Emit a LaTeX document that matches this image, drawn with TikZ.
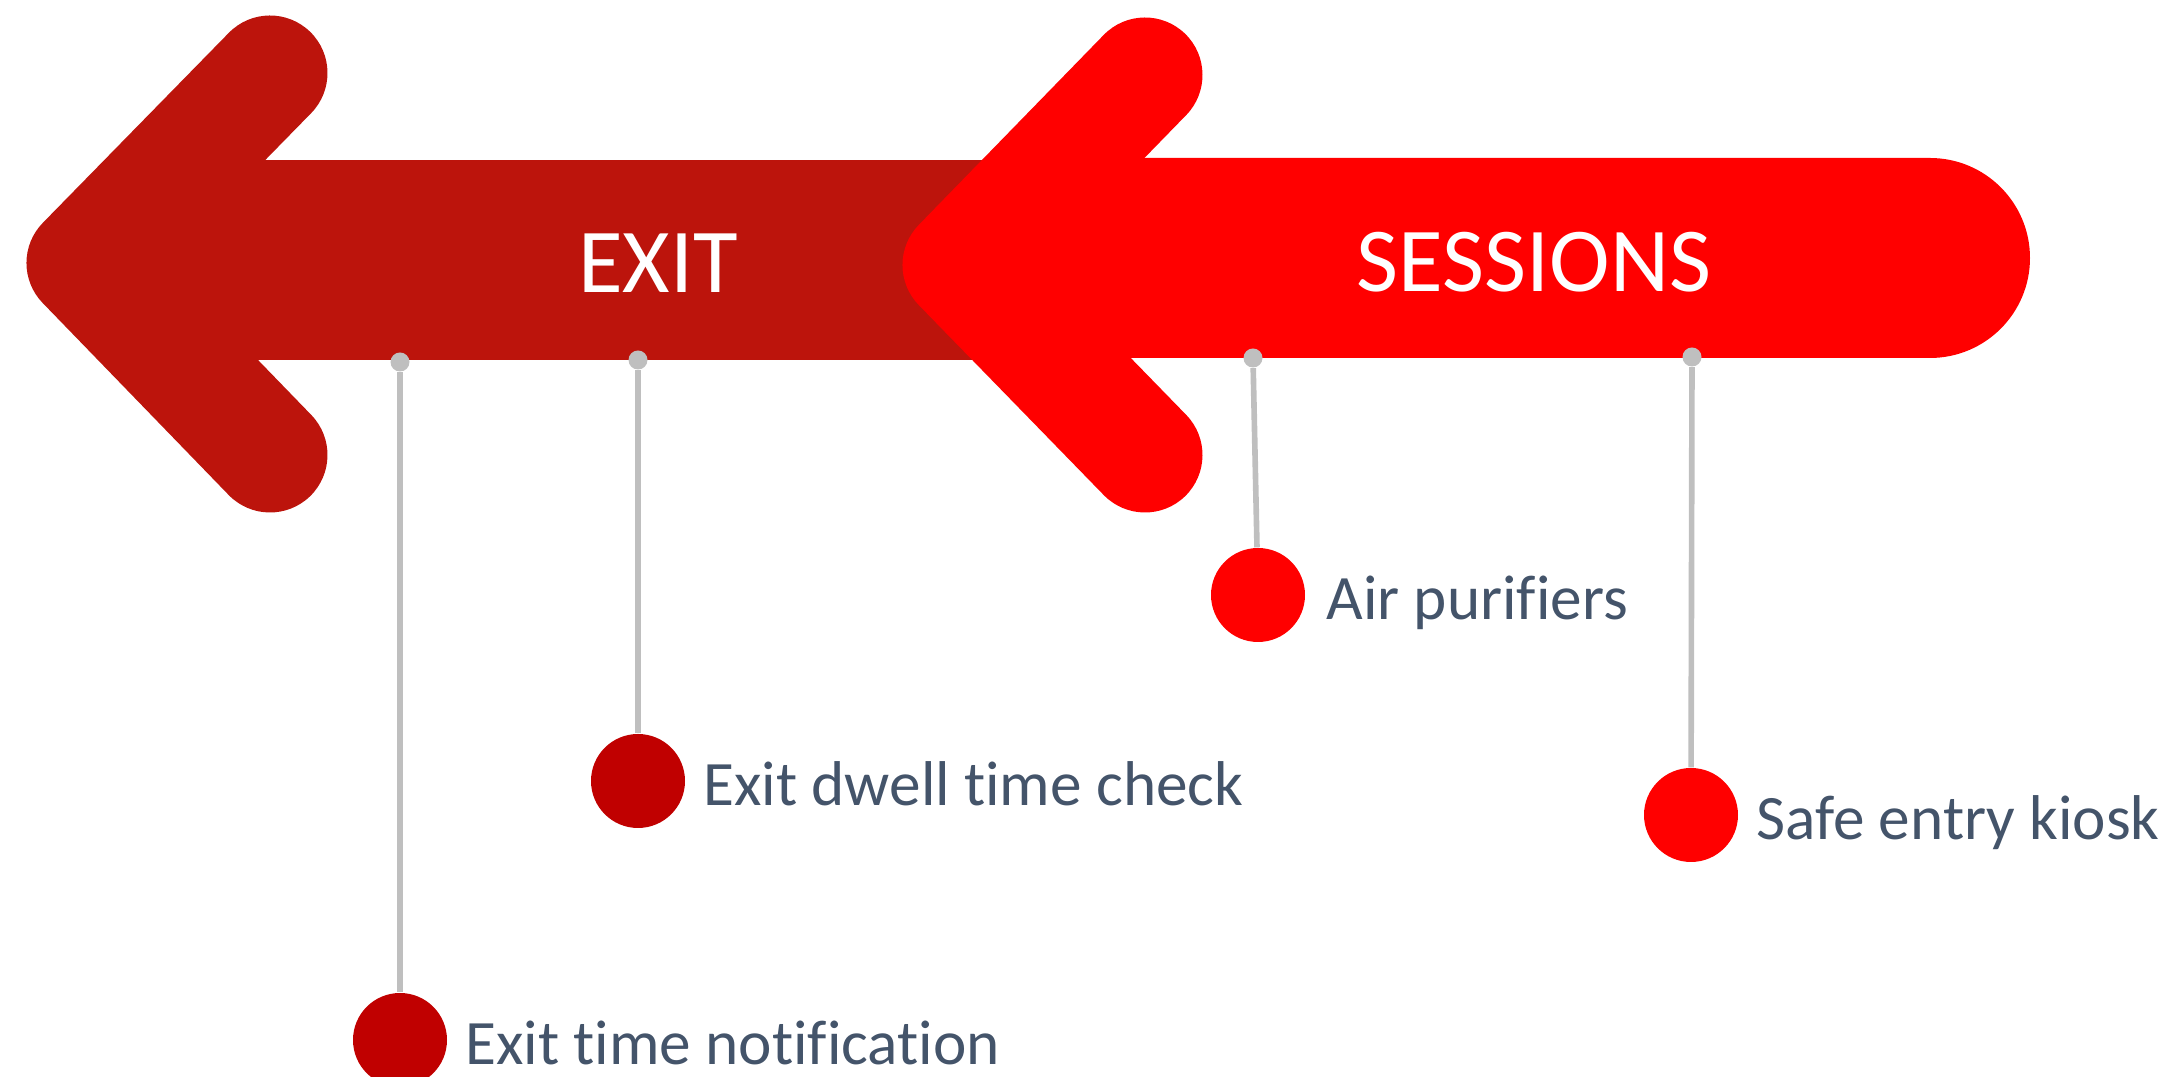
\documentclass[tikz,border=0pt]{standalone}
\usepackage{fontspec}
\setmainfont{Carlito}[Ligatures={NoCommon,NoRare}]
\usepackage{xcolor}
\usepackage{tikz}
\usetikzlibrary{positioning}

\definecolor{exitred}{RGB}{188,20,12}
\definecolor{exitball}{RGB}{192,0,0}
\definecolor{sessred}{RGB}{255,0,0}
\definecolor{stemgray}{RGB}{191,191,191}
\definecolor{itemgray}{RGB}{68,84,106}

\begin{document}
\begin{tikzpicture}[
		chevron/.style={line width=1.15cm, line cap=round, line join=round},
		title/.style={text=white, inner sep=0, font=\fontsize{26}{30}\selectfont},
		stem/.style={stemgray, line width=1.6pt},
		knob/.style={circle, fill=stemgray, minimum size=0.19cm, inner sep=0},
		ball/.style={circle, minimum size=0.94cm, inner sep=0},
		itemtext/.style={text=itemgray, inner sep=0, text height=11.4pt, text depth=0pt, yshift=-0.04cm, font=\fontsize{18}{20}\selectfont}]
		\useasboundingbox (0,0) rectangle (21.78,10.77);
		\fill[exitred] (1.5,7.17) rectangle (10.2,9.17);
		\draw[chevron, exitred] (2.70,10.04) -- (0.84,8.14) -- (2.70,6.22);
		\fill[sessred] (10.26,7.19) -- (19.30,7.19) arc [start angle=-90, end angle=90, radius=1cm] -- (10.26,9.19) -- cycle;
		\draw[chevron, sessred] (11.45,10.02) -- (9.60,8.12) -- (11.45,6.22);
		\node[title] (exit) at (6.58,8.14) {EXIT};
		\node[title] (sessions) at (15.34,8.15) {SESSIONS};
		\node[knob] (d1) at (4.00,7.15) {};
		\node[knob] (d2) at (6.38,7.17) {};
		\node[knob] (d3) at (12.53,7.19) {};
		\node[knob] (d4) at (16.92,7.20) {};
		\node[ball, fill=exitball] (c1) at (4.00,0.37) {};
		\node[ball, fill=exitball] (c2) at (6.38,2.96) {};
		\node[ball, fill=sessred] (c3) at (12.58,4.82) {};
		\node[ball, fill=sessred] (c4) at (16.91,2.62) {};
		\draw[stem] (d1) -- (c1);
		\draw[stem] (d2) -- (c2);
		\draw[stem] (d3) -- (c3);
		\draw[stem] (d4) -- (c4);
		\node[itemtext, right=0.17cm of c1] (t1) {Exit time notification};
		\node[itemtext, right=0.17cm of c2] (t2) {Exit dwell time check};
		\node[itemtext, right=0.2cm of c3] (t3) {Air purifiers};
		\node[itemtext, right=0.17cm of c4] (t4) {Safe entry kiosk};
	\end{tikzpicture}
\end{document}
